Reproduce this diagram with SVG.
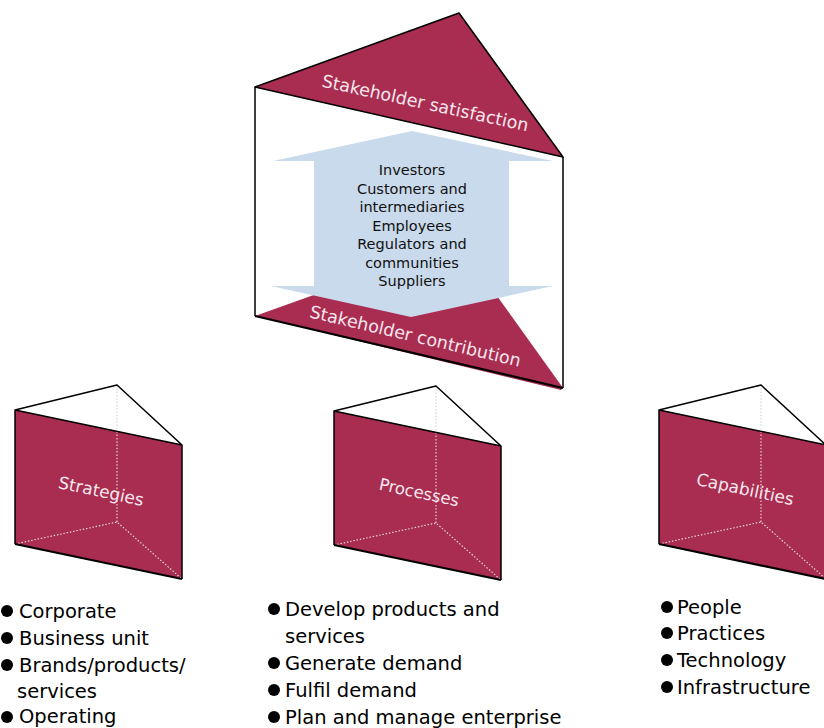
<svg xmlns="http://www.w3.org/2000/svg" width="824" height="728" viewBox="0 0 824 728">
<style>
.crim{fill:#a92c51}
.edge{stroke:#000;stroke-width:1.5;fill:none;stroke-linejoin:round}
.bold{stroke:#000;stroke-width:2.2;fill:none}
.dot{stroke:#e6e0e2;stroke-width:1.1;stroke-dasharray:1.5 1.8;fill:none}
.lbl{font-family:"DejaVu Sans",sans-serif;fill:#f7e6ec;text-anchor:middle}
.arr{font-family:"DejaVu Sans",sans-serif;font-size:14.5px;fill:#111;text-anchor:middle}
.lst{font-family:"DejaVu Sans",sans-serif;font-size:19.5px;fill:#000}
</style>
<defs>
<g id="prism">
<polygon points="15,410 117,385 182,445" fill="#fff"/>
<line x1="117" y1="385" x2="117" y2="428" stroke="#cfcfcf" stroke-width="1.1" stroke-dasharray="1.5 1.8"/>
<polygon class="crim" points="15,410 182,445 182,579 15,544"/>
<path class="dot" d="M117,428 V522 M15,544 L117,522 L182,579"/>
<path class="edge" d="M15,544 V410 L117,385 L182,445 V579 M15,410 L182,445"/>
<line class="bold" x1="15" y1="544" x2="182" y2="579"/>
</g>
</defs>

<g id="stakeholder-prism">
<path class="edge" d="M255,87 V316 M563,157 V388"/>
<polygon class="crim" points="255,316 459,243 563,388 561,390"/>
<line class="bold" x1="255" y1="316" x2="563" y2="388"/>
<polygon fill="#c9daec" points="412,131 553,161 509,161 509,286 553,286 411,317 271,286 314,286 314,161 273,161"/>
<text class="arr" x="412" y="175">Investors</text>
<text class="arr" x="412" y="193.5">Customers and</text>
<text class="arr" x="412" y="212">intermediaries</text>
<text class="arr" x="412" y="230.5">Employees</text>
<text class="arr" x="412" y="249">Regulators and</text>
<text class="arr" x="412" y="267.5">communities</text>
<text class="arr" x="412" y="286">Suppliers</text>
<polygon class="crim" points="255,87 459,13 563,157"/>
<polygon class="edge" points="255,87 459,13 563,157"/>
<text class="lbl" font-size="17.5" x="424" y="109" transform="rotate(12.3 424 109)">Stakeholder satisfaction</text>
<text class="lbl" font-size="17.5" x="414" y="342" transform="rotate(13.2 414 342)">Stakeholder contribution</text>
</g>

<g id="strategies">
<use href="#prism"/>
<text class="lbl" font-size="17" x="100" y="497" transform="rotate(12 100 497)">Strategies</text>
</g>

<g id="processes">
<use href="#prism" transform="translate(319,1)"/>
<text class="lbl" font-size="16.5" x="418" y="498" transform="rotate(12 418 498)">Processes</text>
</g>

<g id="capabilities">
<use href="#prism" transform="translate(644,0)"/>
<text class="lbl" font-size="17" x="744" y="495" transform="rotate(12 744 495)">Capabilities</text>
</g>

<g id="strategies-list">
<circle cx="7" cy="611" r="6"/>
<circle cx="7" cy="638" r="6"/>
<circle cx="7" cy="665" r="6"/>
<circle cx="7" cy="717" r="6"/>
<text class="lst" x="19" y="618">Corporate</text>
<text class="lst" x="19" y="645">Business unit</text>
<text class="lst" x="19" y="672">Brands/products/</text>
<text class="lst" x="17" y="698">services</text>
<text class="lst" x="19" y="723">Operating</text>
</g>

<g id="processes-list">
<circle cx="274" cy="609" r="6"/>
<circle cx="274" cy="663" r="6"/>
<circle cx="274" cy="690" r="6"/>
<circle cx="274" cy="717" r="6"/>
<text class="lst" x="285" y="616">Develop products and</text>
<text class="lst" x="285" y="643">services</text>
<text class="lst" x="285" y="670">Generate demand</text>
<text class="lst" x="285" y="697">Fulfil demand</text>
<text class="lst" x="285" y="724">Plan and manage enterprise</text>
</g>

<g id="capabilities-list">
<circle cx="667" cy="607" r="6"/>
<circle cx="667" cy="633" r="6"/>
<circle cx="667" cy="660" r="6"/>
<circle cx="667" cy="687" r="6"/>
<text class="lst" x="677" y="614">People</text>
<text class="lst" x="677" y="640">Practices</text>
<text class="lst" x="677" y="667">Technology</text>
<text class="lst" x="677" y="694">Infrastructure</text>
</g>
</svg>
